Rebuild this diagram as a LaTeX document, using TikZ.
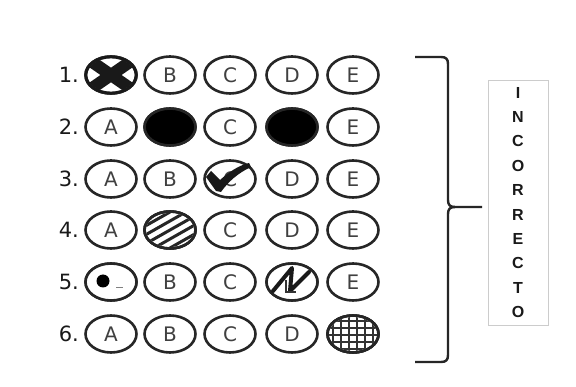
\documentclass[tikz,border=0pt]{standalone}
\usepackage{fontspec}
\usetikzlibrary{shapes.geometric,calc}
\newfontfamily\numfont{DejaVu Sans}
\newfontfamily\lblfont{Liberation Sans}
\begin{document}
\begin{tikzpicture}[x=1pt,y=-1pt,
  bub/.style={ellipse, draw=black!85, line width=2.6pt, minimum width=51pt, minimum height=37pt, inner sep=0pt,
    font=\numfont\fontsize{20}{20}\selectfont, text=black!75},
  blank/.style={bub, fill=white, text opacity=0},
  rowlbl/.style={anchor=east, font=\numfont\fontsize{21}{21}\selectfont, text=black!90, inner sep=0pt},
  brace/.style={line width=2.4pt, black!85, line join=round}]
\useasboundingbox (0,0) rectangle (576,387);
\fill[white] (0,0) rectangle (576,387);
% rows of bubbles
\foreach \r/\y in {1/75,2/127,3/179,4/230,5/282,6/334}{
  \node[rowlbl] (n\r) at (79,\y) {\r.};
  \foreach \c/\x in {A/111,B/170,C/230,D/292,E/353}{
    \node[bub] (b\r\c) at (\x,\y) {\c};
  }
}
% 1A : cross
\node[blank] (m1A) at (b1A) {A};
\begin{scope}[shift={(b1A.center)}]
  \clip (0,0) ellipse [x radius=24pt, y radius=17pt];
  \draw[line width=12pt, black!90] (-26,-18) -- (26,18) (-26,18) -- (26,-18);
\end{scope}
\draw[line width=2.8pt, black!90] (b1A.center) ellipse [x radius=25pt, y radius=18pt];
% 2B, 2D : filled
\node[bub, fill=black, text opacity=0] (m2B) at (b2B) {B};
\node[bub, fill=black, text opacity=0] (m2D) at (b2D) {D};
% 3C : check mark
\begin{scope}[shift={(b3C.center)}]
  \fill[black!90] (-24,-2) -- (-19,-8) -- (-10,1) .. controls (0,-8) and (10,-14) .. (19,-16)
     -- (21,-12) .. controls (8,-6) and (-2,3) .. (-9,13) -- (-14,12) -- cycle;
\end{scope}
% 4B : hatched
\node[blank] (m4B) at (b4B) {B};
\begin{scope}[shift={(b4B.center)}]
  \clip (0,0) ellipse [x radius=24pt, y radius=17pt];
  \foreach \k in {-45,-36,...,45}{
    \draw[line width=3pt, black!85] (-30,\k+17) -- (30,\k-17);
  }
\end{scope}
\draw[line width=2.6pt, black!85] (b4B.center) ellipse [x radius=25.5pt, y radius=18.5pt];
% 5A : dot
\node[blank] (m5A) at (b5A) {A};
\fill[black] ($(b5A.center)+(-8,-1)$) circle (6.5pt);
\draw[line width=1pt, black!50] ($(b5A.center)+(5,6)$) -- ($(b5A.center)+(12,6)$);
% 5D : scribble
\node[blank] (m5D) at (b5D) {D};
\begin{scope}[shift={(b5D.center)}]
  \draw[line width=4pt, black!90, line join=round, line cap=round]
    (-19,9) -- (0,-14) -- (-2,9) -- (17,-10);
  \draw[line width=2pt, black!80] (-6,-2) -- (-6,10) -- (4,10);
\end{scope}
% 6E : grid
\node[blank] (m6E) at (b6E) {E};
\begin{scope}[shift={(b6E.center)}]
  \clip (0,0) ellipse [x radius=24pt, y radius=17pt];
  \foreach \u in {-20,-12,...,20}{ \draw[line width=1.4pt, black!80] (\u,-20) -- (\u,20); }
  \foreach \v in {-13,-6,...,15}{ \draw[line width=1.4pt, black!80] (-30,\v) -- (30,\v); }
\end{scope}
\draw[line width=2.6pt, black!85] (b6E.center) ellipse [x radius=25.5pt, y radius=18.5pt];
% bracket
\coordinate (bt) at (415,57);
\coordinate (bb) at (415,362);
\coordinate (tip) at (482,207);
\draw[brace] (bt) -- (441,57) .. controls (446,57) and (448,59) .. (448,64)
  -- (448,200) .. controls (448,205) and (450,207) .. (455,207) -- (tip);
\draw[brace] (455,207) .. controls (450,207) and (448,209) .. (448,214)
  -- (448,355) .. controls (448,360) and (446,362) .. (441,362) -- (bb);
% label box
\node[draw=black!20, line width=0.8pt, minimum width=60pt, minimum height=245pt, inner sep=0pt,
  align=center, font=\lblfont\bfseries\fontsize{16}{24.4}\selectfont, text=black!90] (lab) at (518,202.5)
  {I\\N\\C\\O\\R\\R\\E\\C\\T\\O};
\end{tikzpicture}
\end{document}
